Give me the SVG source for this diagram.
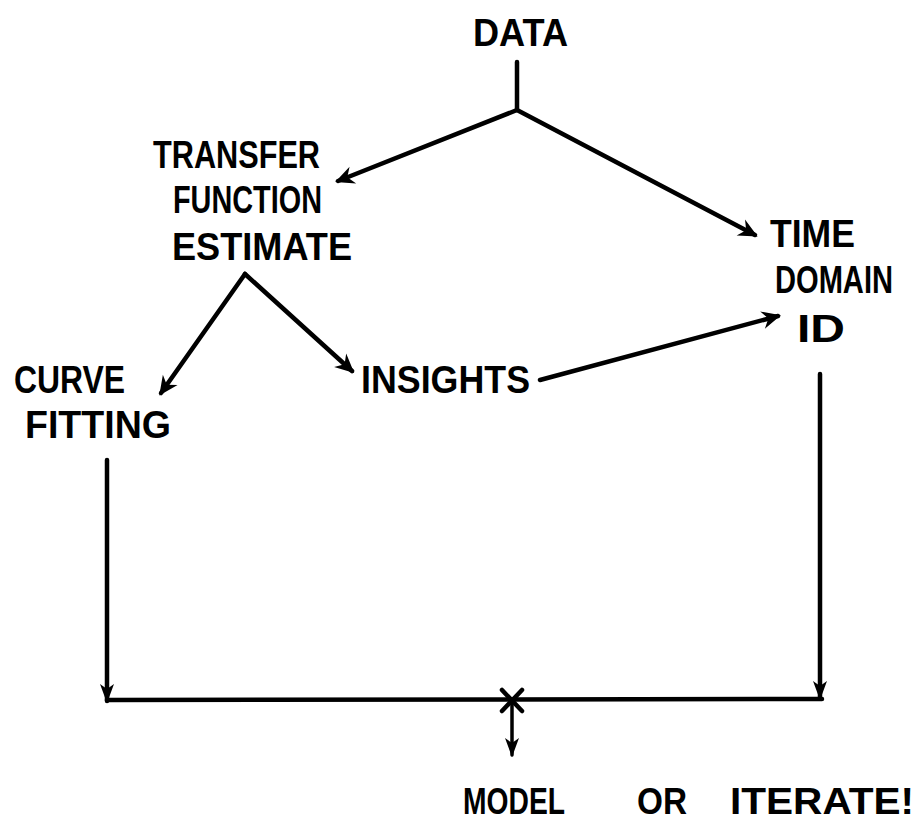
<svg xmlns="http://www.w3.org/2000/svg" width="921" height="821" viewBox="0 0 921 821">
  <style>
    .lbl { font-family: "Liberation Sans", "DejaVu Sans", sans-serif; font-size: 38px; font-weight: 700; fill: #000; }
    .low { font-size: 36px; }
    .wire { fill: none; stroke: #000; stroke-width: 4.5; stroke-linecap: round; stroke-linejoin: round; }
    .thin { fill: none; stroke: #000; stroke-width: 3.5; stroke-linecap: round; }
  </style>
  <defs>
    <marker id="head" viewBox="-20 -10 24 20" refX="0" refY="0" markerWidth="24" markerHeight="20" markerUnits="userSpaceOnUse" orient="auto">
      <path d="M3,0 L-16,-9 L-10,0 L-16,9 Z" fill="#000"/>
    </marker>
    <marker id="headSmall" viewBox="-20 -10 24 20" refX="0" refY="0" markerWidth="24" markerHeight="20" markerUnits="userSpaceOnUse" orient="auto">
      <path d="M2,0 L-17,-7 L-12,0 L-17,7 Z" fill="#000"/>
    </marker>
  </defs>
  <rect width="921" height="821" fill="#fff"/>

  <g id="connectors">
    <path class="wire" d="M517,62 L517,110"/>
    <path class="wire" d="M517,110 L338,181" marker-end="url(#head)"/>
    <path class="wire" d="M517,110 L755,235" marker-end="url(#head)"/>
    <path class="wire" d="M245,274 L161,393" marker-end="url(#head)"/>
    <path class="wire" d="M245,274 L352,371" marker-end="url(#head)"/>
    <path class="wire" d="M540,380 L778,316" marker-end="url(#head)"/>
    <path class="wire" d="M107,460 L107,701" marker-end="url(#headSmall)"/>
    <path class="wire" d="M820,374 L820,698" marker-end="url(#headSmall)"/>
    <path class="wire" d="M107,700 L822,699"/>
    <path class="wire" d="M502,690 L522,711 M522,690 L502,711"/>
    <path class="thin" d="M512,700 L512,755" marker-end="url(#headSmall)"/>
  </g>

  <g id="data">
    <text class="lbl" x="473" y="46" textLength="95" lengthAdjust="spacingAndGlyphs">DATA</text>
  </g>
  <g id="transfer-function-estimate">
    <text class="lbl" x="153" y="168" textLength="167" lengthAdjust="spacingAndGlyphs">TRANSFER</text>
    <text class="lbl" x="173" y="213" textLength="149" lengthAdjust="spacingAndGlyphs">FUNCTION</text>
    <text class="lbl" x="172" y="260" textLength="180" lengthAdjust="spacingAndGlyphs">ESTIMATE</text>
  </g>
  <g id="time-domain-id">
    <text class="lbl" x="770" y="247" textLength="85" lengthAdjust="spacingAndGlyphs">TIME</text>
    <text class="lbl" transform="translate(775,293) scale(0.766,1)" x="0" y="0">DOMAIN</text>
    <text class="lbl" x="797" y="342" textLength="48" lengthAdjust="spacingAndGlyphs">ID</text>
  </g>
  <g id="curve-fitting">
    <text class="lbl" x="14" y="393" textLength="111" lengthAdjust="spacingAndGlyphs">CURVE</text>
    <text class="lbl" x="25" y="438" textLength="146" lengthAdjust="spacingAndGlyphs">FITTING</text>
  </g>
  <g id="insights">
    <text class="lbl" x="361" y="393" textLength="169" lengthAdjust="spacingAndGlyphs">INSIGHTS</text>
  </g>
  <g id="model-or-iterate">
    <text class="lbl low" x="463" y="814" textLength="102" lengthAdjust="spacingAndGlyphs">MODEL</text>
    <text class="lbl low" x="637" y="814" textLength="50" lengthAdjust="spacingAndGlyphs">OR</text>
    <text class="lbl low" x="730" y="814" textLength="184" lengthAdjust="spacingAndGlyphs">ITERATE!</text>
  </g>
</svg>
